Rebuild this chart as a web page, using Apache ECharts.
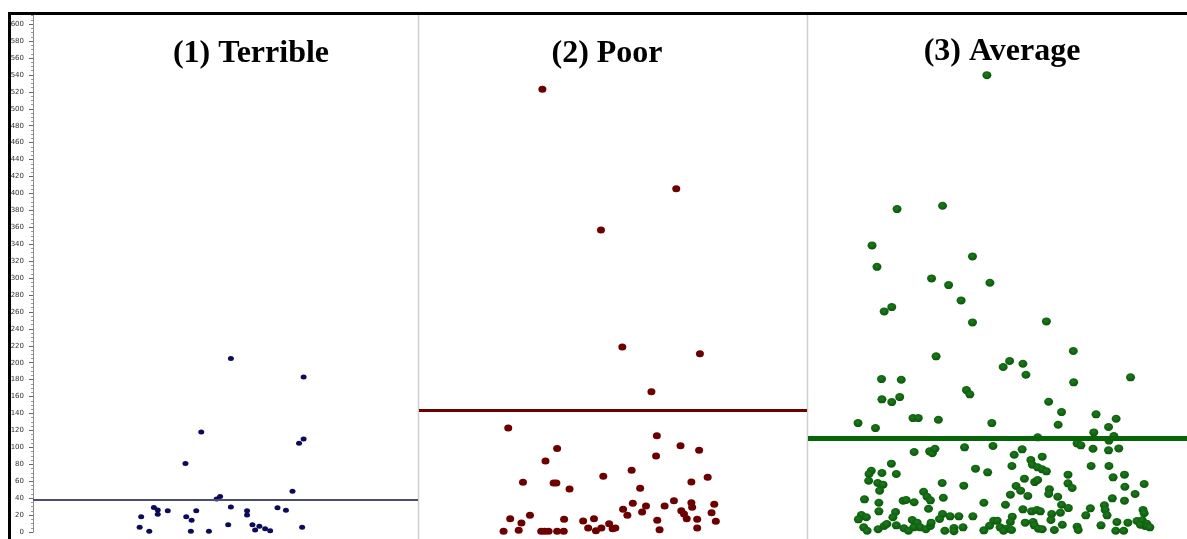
<!DOCTYPE html>
<html>
<head>
<meta charset="utf-8">
<script src="https://cdn.jsdelivr.net/npm/echarts@6/dist/echarts.min.js"></script>
<style>html,body{margin:0;padding:0;background:#fff;}#c{width:1187px;height:539px;}</style>
</head>
<body>
<div id="c"></div>
<script>
// ---- data ----
var panelTitles = ['(1) Terrible', '(2) Poor', '(3) Average'];
var meanValues = [38.5, 143.5, 111];
var yTickMax = 600;

var terribleX = [51.4,70.3,43.7,69.1,70.3,39.6,67.4,47.7,48.6,31.4,32.4,32.4,35.0,28.1,27.7,30.2,39.8,41.2,42.4,41.0,45.7,51.4,50.7,55.6,55.6,57.0,57.7,58.8,60.3,61.6,63.5,65.7,69.9];
var terribleY = [205,183,118,105,110,81,48,39,42,29,26,21,25,18,5.5,1,18,14,25,1,1,29.5,8.6,25,20,8.6,2.4,6.7,3.9,1.5,28.7,25.6,5.5];

var poorX = [31.8,66.3,46.9,52.4,72.4,59.9,23.0,35.6,32.6,26.8,34.7,35.4,38.8,23.5,28.6,26.4,37.4,21.8,25.7,31.5,32.4,33.4,35.6,37.3,61.3,67.4,72.2,61.1,47.5,54.8,70.2,74.4,57.0,55.1,52.6,53.7,58.5,57.5,65.7,63.3,70.2,70.4,67.6,68.3,69.0,76.1,75.4,76.5,71.7,71.7,61.4,62.0,42.3,45.1,43.6,45.6,47.0,49.0,49.9,50.6];
var poorY = [523,405.5,356.7,218.5,210.6,165.7,122.8,98.8,83.9,58.7,57.9,57.9,50.8,15.7,19.7,10.6,15,0.8,2,1,1,1,1,1,113.7,101.9,96.5,89.8,65.8,72.9,59,64.6,51.6,33.9,26.8,19.7,30.7,23.6,37,30.7,34.6,29.2,25.2,21.3,15.7,32.7,22.8,12.6,15,4.7,13.8,2.7,13,15.7,4.7,1.5,4.7,9.8,3.9,4.7];

var averageX = [47.2,23.5,35.5,16.9,43.4,18.2,32.6,37.1,48.0,40.4,22.1,20.1,43.4,33.8,19.4,24.6,41.8,42.7,19.5,22.1,24.2,27.7,29.1,34.4,13.2,17.8,48.5,
62.9,70.0,53.2,51.5,56.7,57.5,70.1,85.1,63.5,66.9,66.0,76.0,81.3,79.3,75.4,80.7,60.6,71.0,72.0,79.4,
28.0,32.1,32.8,33.5,41.3,48.8,22.0,16.7,16.1,19.5,23.3,16.0,18.4,19.8,18.9,44.2,47.4,35.4,41.1,30.5,31.4,32.3,35.7,14.9,18.7,25.1,25.9,28.0,31.8,46.4,18.7,23.1,22.4,14.1,13.3,15.4,35.5,34.7,37.5,39.8,43.5,49.0,47.9,46.4,14.7,15.6,18.5,20.1,20.8,23.3,25.3,27.5,28.8,27.9,29.6,26.5,31.1,32.3,32.5,36.1,38.5,38.5,40.9,
56.5,54.4,75.2,79.3,82.0,61.8,58.8,59.2,60.6,61.8,62.9,53.8,74.7,79.4,68.6,80.5,83.5,57.1,59.8,60.6,68.6,69.7,88.7,83.6,54.9,56.1,63.7,63.5,65.9,53.4,58.0,86.3,80.3,83.5,52.1,66.9,68.7,56.7,59.0,60.4,61.3,74.5,78.2,78.4,88.4,88.7,64.3,64.1,66.6,73.3,78.9,53.9,53.4,49.9,57.3,59.4,59.7,60.8,61.8,50.7,52.3,53.7,51.6,65.0,67.1,71.0,71.3,77.3,81.5,84.4,81.2,83.3,86.8,88.2,89.4,88.9,87.7,90.2];
var averageY = [539.7,381.5,385.4,338.6,325.6,313.3,299.6,291.7,294.5,273.6,265.7,260.6,247.6,207.5,180.7,179.9,167.7,162.6,156.7,153.5,159.4,134.6,134.6,132.6,128.7,122.8,128.7,
248.8,213.8,202,194.9,198.8,185.8,176.8,182.7,153.9,141.7,126.7,139,133.8,124,117.7,113.4,111.8,104.7,102.4,108,
94.5,95.3,93,98.4,100,101.6,80.7,72.4,68.5,69.7,68.5,60.6,57.9,55.9,48.8,74.8,70.5,57.9,54.7,47.6,41.7,37.4,40.5,38.6,34.6,37,37.8,35.1,27.5,34.6,24.4,23.6,17.4,20.1,15,17.4,21.3,15.4,18.5,18.5,18.5,13.4,7.4,2,5.5,1.5,3.2,7.1,9.4,7.9,4.4,14.2,11,5.5,5.5,1.5,3.2,7.1,11,1.5,4.7,1,5.5,
97.7,91.3,98.4,96.5,98.8,89,85,79.5,76.4,74,71.7,78,78,78,67.7,64.6,67.7,63,59,61.4,57.5,52,56.7,53.5,54.3,48.8,50.4,44.9,41.7,44.1,42.5,44.9,39.8,37,32.2,32.2,28.3,26.8,24.4,26,24.4,28,31.5,26,26,22.1,21.3,14.2,22.8,19.7,19.7,18.1,11.8,13.4,11,11.8,7.9,3.9,3.2,5.5,3.9,2.4,1.5,2.4,8.6,6.3,2.4,7.9,11.8,11,1.5,1.5,13,13.8,9.8,7.1,8.6,5.5];

function zip(xs, ys) { return xs.map(function (x, i) { return [x, ys[i]]; }); }

var chart = echarts.init(document.getElementById('c'), null, { renderer: 'canvas' });

var grids = [
  { left: 33, top: 14, width: 385, bottom: 7 },
  { left: 419, top: 14, width: 388, bottom: 7 },
  { left: 808, top: 14, width: 379, bottom: 7 }
];

var yMax = 612;
var yAxes = [0, 1, 2].map(function (i) {
  return {
    type: 'value', gridIndex: i, min: 0, max: yMax, interval: 20,
    show: i === 0,
    axisLine: { show: true, lineStyle: { color: '#8a8a8a', width: 1 } },
    axisTick: { show: true, length: 4, lineStyle: { color: '#666' } },
    minorTick: { show: true, splitNumber: 4, length: 2, lineStyle: { color: '#999' } },
    axisLabel: {
      fontSize: 7, color: '#333', margin: 9, fontFamily: 'DejaVu Sans',
      showMaxLabel: false,
      formatter: function (v) { return v <= yTickMax && v % 20 === 0 ? String(v) : ''; }
    },
    splitLine: { show: false }
  };
});
var xAxes = [0, 1, 2].map(function (i) {
  return { type: 'value', gridIndex: i, min: 0, max: 100, show: false };
});

var colors = ['#0b0b5a', '#6c0000', '#0b620b'];
var lineColors = ['#4d4d6d', '#6c0000', '#076507'];
var lineWidths = [2, 3, 5];
var sizes = [[6, 5], [8, 7], [9, 8]];
var datas = [zip(terribleX, terribleY), zip(poorX, poorY), zip(averageX, averageY)];

var series = [0, 1, 2].map(function (i) {
  var color = colors[i];
  if (i === 2) {
    color = new echarts.graphic.RadialGradient(0.45, 0.4, 0.7, [
      { offset: 0, color: '#1e7a1e' },
      { offset: 1, color: '#055205' }
    ]);
  }
  return {
    type: 'scatter', xAxisIndex: i, yAxisIndex: i,
    data: datas[i],
    symbol: 'circle', symbolSize: sizes[i],
    itemStyle: { color: color, opacity: 1 },
    silent: true,
    markLine: {
      silent: true, symbol: 'none', label: { show: false },
      lineStyle: { color: lineColors[i], width: lineWidths[i], type: 'solid' },
      data: [{ yAxis: meanValues[i] }],
      animation: false
    },
    z: 3
  };
});

var titleCenters = [246, 602, 997];
var titleTops = [33, 33, 31];
var titles = panelTitles.map(function (t, i) {
  return {
    text: t, left: titleCenters[i], top: titleTops[i], textAlign: 'center',
    textStyle: { fontFamily: 'Liberation Serif', fontWeight: 'bold', fontSize: 32, color: '#000' }
  };
});

chart.setOption({
  backgroundColor: '#fff',
  animation: false,
  title: titles,
  grid: grids,
  xAxis: xAxes,
  yAxis: yAxes,
  series: series,
  graphic: [
    { type: 'line', shape: { x1: 418.5, y1: 14, x2: 418.5, y2: 539 }, style: { stroke: '#cfcfcf', lineWidth: 1.5 }, z: 1 },
    { type: 'line', shape: { x1: 807.5, y1: 14, x2: 807.5, y2: 539 }, style: { stroke: '#cfcfcf', lineWidth: 1.5 }, z: 1 },
    { type: 'line', shape: { x1: 8, y1: 13.5, x2: 1187, y2: 13.5 }, style: { stroke: '#000', lineWidth: 3 }, z: 10 },
    { type: 'line', shape: { x1: 9.5, y1: 12, x2: 9.5, y2: 539 }, style: { stroke: '#000', lineWidth: 3 }, z: 10 }
  ]
});
</script>
</body>
</html>
